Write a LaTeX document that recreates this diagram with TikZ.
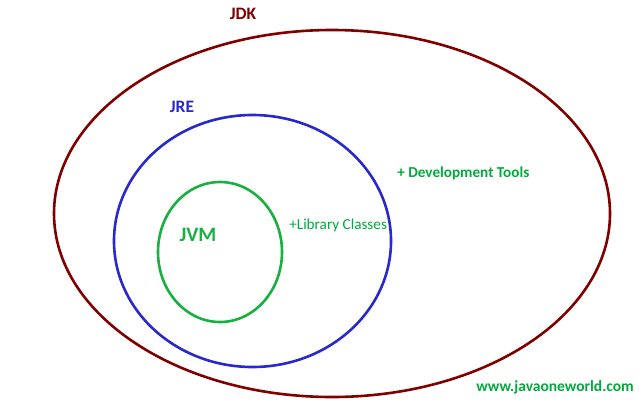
\documentclass[tikz,border=0pt]{standalone}
\usepackage{fontspec}
\setmainfont{Carlito}
\definecolor{jdkred}{RGB}{128,0,0}
\definecolor{jreblue}{RGB}{40,40,204}
\definecolor{jvmgreen}{RGB}{24,176,64}
\definecolor{txtgreen}{RGB}{0,170,60}

\begin{document}
\begin{tikzpicture}[x=1pt, y=-1pt, line width=2.6pt]
            \useasboundingbox (0,0) rectangle (639,408);
            \draw[jdkred] (332,213.5) ellipse [x radius=278, y radius=183.5];
            \draw[jreblue] (252.5,241) ellipse [x radius=138.5, y radius=126];
            \draw[jvmgreen] (220,252) ellipse [x radius=62, y radius=70];
            \node[text=jdkred, font=\bfseries\fontsize{17.5}{20}\selectfont] (jdk) at (243,14) {JDK};
            \node[text=jreblue, font=\bfseries\fontsize{17.5}{20}\selectfont] (jre) at (182,107) {JRE};
            \node[text=jvmgreen, font=\bfseries\fontsize{20.5}{24}\selectfont] (jvm) at (198,235) {JVM};
            \node[text=txtgreen, font=\bfseries\fontsize{15.2}{18}\selectfont, anchor=west, inner sep=0pt] (devtools) at (396,173) {+ Development Tools};
            \node[text=txtgreen, font=\fontsize{15.2}{18}\selectfont, anchor=west, inner sep=0pt] (libclasses) at (288,225) {+Library Classes};
            \node[text=txtgreen, font=\bfseries\fontsize{15.5}{18}\selectfont, anchor=west, inner sep=0pt] (website) at (475,387) {www.javaoneworld.com};
        \end{tikzpicture}
\end{document}
